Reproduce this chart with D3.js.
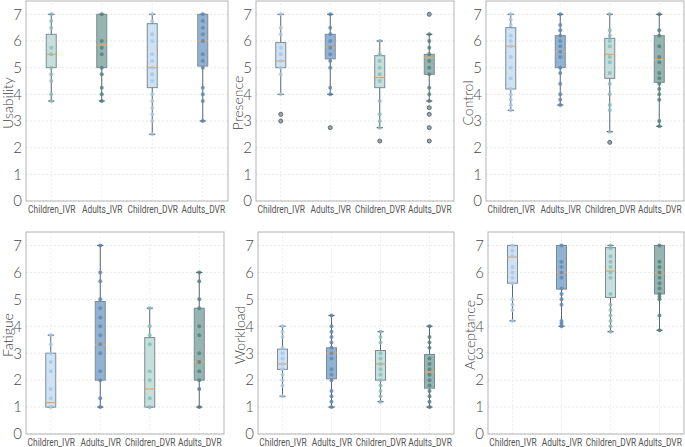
<!DOCTYPE html>
<html>
<head>
<meta charset="utf-8">
<script src="https://cdn.jsdelivr.net/npm/d3@7"></script>
<style>
  body { margin: 0; background: #fff; }
  svg { display: block; font-family: Lato, "Open Sans", sans-serif; }
</style>
</head>
<body>
<div id="chart"></div>
<script>
var svgWidth = 685;
var svgHeight = 447;

// categories and measure names
var groups = ["Children_IVR", "Adults_IVR", "Children_DVR", "Adults_DVR"];
var measures = ["Usability", "Presence", "Control", "Fatigue", "Workload", "Acceptance"];
var yTicks = [0, 1, 2, 3, 4, 5, 6, 7];

// box stats per group: [whisker low, q1, median, q3, whisker high]
var usabilityStats = [[3.75, 5, 5.5, 6.25, 7], [3.75, 5, 5.85, 7, 7], [2.5, 4.25, 5, 6.65, 7], [3, 5.06, 6, 7, 7]];
var presenceStats = [[4, 5, 5.25, 5.94, 7], [4, 5.33, 5.75, 6.25, 7], [2.75, 4.25, 4.63, 5.45, 6], [3.75, 4.75, 5.38, 5.5, 6.25]];
var controlStats = [[3.4, 4.2, 5.8, 6.5, 7], [3.6, 5, 5.6, 6.2, 7], [2.6, 4.6, 5.5, 6.1, 7], [2.8, 4.45, 5.3, 6.2, 7]];
var fatigueStats = [[1, 1, 1.17, 3, 3.67], [1, 2, 3.33, 4.92, 7], [1, 1, 1.67, 3.58, 4.67], [1, 2, 2.67, 4.67, 6]];
var workloadStats = [[1.4, 2.4, 2.6, 3.15, 4], [1, 2.05, 3, 3.2, 4.4], [1.2, 2, 2.6, 3.1, 3.8], [1, 1.7, 2.3, 2.95, 4]];
var acceptanceStats = [[4.2, 5.6, 6.57, 7, 7], [4, 5.38, 6, 7, 7], [3.8, 5.07, 6.05, 6.92, 7], [3.85, 5.2, 6, 7, 7]];

// individual responses drawn on top of each box
var usabilityPoints = [
  [7, 6.75, 6.5, 5.75, 5.5, 5, 4.75, 4.5, 4, 3.75],
  [7, 6, 5.75, 5.5, 5, 4.75, 4.25, 4, 3.75],
  [7, 6.75, 6.25, 6, 5.5, 5.25, 5, 4.75, 4.5, 4, 3.75, 3.5, 3.25, 3, 2.5],
  [7, 6.75, 6.5, 6.25, 6, 5.5, 5.25, 5, 4.25, 4, 3.75, 3]
];
var presencePoints = [
  [7, 6.5, 6.25, 5.75, 5.5, 5.25, 5, 4.75, 4],
  [7, 6.5, 6.25, 6, 5.75, 5.5, 5.25, 5, 4.25, 4],
  [6, 5.5, 5.25, 5, 4.75, 4.5, 3.75, 3.25, 3, 2.75],
  [6.25, 6, 5.75, 5.5, 5.25, 5, 4.75, 4.25, 4, 3.75]
];
var controlPoints = [
  [7, 6.8, 6.6, 6.2, 6, 5.8, 5.4, 5, 4.6, 4.2, 4, 3.8, 3.6, 3.4],
  [7, 6.6, 6.4, 6.2, 6, 5.8, 5.6, 5.4, 5, 4.8, 4.4, 4, 3.8, 3.6],
  [7, 6.4, 6.2, 6, 5.8, 5.4, 5.2, 4.8, 4.4, 4, 3.6, 3.4, 2.6],
  [7, 6.4, 6.2, 5.8, 5.4, 5.2, 4.8, 4.6, 4.4, 4.2, 4, 3.8, 3, 2.8]
];
var fatiguePoints = [
  [3.67, 3.33, 3, 2.67, 2.33, 1.67, 1.33, 1],
  [7, 6, 5.67, 5, 4.67, 4.33, 4, 3.67, 3.33, 3, 2.33, 2, 1.33, 1],
  [4.67, 4, 3.67, 3.33, 2.33, 2, 1.33, 1],
  [6, 5.67, 5, 4.67, 4, 3.67, 3, 2.67, 2.33, 2, 1.67, 1]
];
var workloadPoints = [
  [4, 3.8, 3.6, 3.2, 3, 2.8, 2.6, 2.4, 2.2, 2, 1.8, 1.4],
  [4.4, 4, 3.8, 3.6, 3.4, 3.2, 3, 2.8, 2.4, 2.2, 2, 1.6, 1.4, 1.2, 1],
  [3.8, 3.6, 3.4, 3, 2.8, 2.6, 2.4, 2.2, 2, 1.8, 1.6, 1.4, 1.2],
  [4, 3.6, 3.4, 3.2, 2.8, 2.6, 2.4, 2.2, 2, 1.8, 1.6, 1.4, 1.2, 1]
];
var acceptancePoints = [
  [7, 6.8, 6.6, 6.2, 6, 5.8, 5.6, 5, 4.8, 4.6, 4.2],
  [7, 6.4, 6.2, 6, 5.8, 5.4, 5.2, 5, 4.8, 4.2, 4.1, 4],
  [7, 6.9, 6.6, 6.4, 6.2, 6, 5.8, 5.2, 4.8, 4.6, 4.4, 4.2, 4, 3.8],
  [7, 6.4, 6.2, 6, 5.8, 5.6, 5.4, 5.2, 5.1, 5, 4.4, 3.85]
];

// outliers beyond the whiskers
var usabilityOutliers = [[], [], [], []];
var presenceOutliers = [[3.25, 3], [2.75], [2.25], [7, 3.5, 3.25, 2.75, 2.25]];
var controlOutliers = [[], [], [2.2], []];
var fatigueOutliers = [[], [], [], []];
var workloadOutliers = [[], [], [], []];
var acceptanceOutliers = [[], [], [], []];

// colour schemes: light blue, blue, light teal, dark teal
var palette = {
  lightBlue: { fill: "#cfe2f4", dot: "#a8c8e4" },
  blue: { fill: "#92b2d4", dot: "#6189b0" },
  lightTeal: { fill: "#c4dfdc", dot: "#8cbdb8" },
  darkTeal: { fill: "#95b6b0", dot: "#568480" }
};
var usabilityColours = ["lightTeal", "darkTeal", "lightBlue", "blue"];
var otherColours = ["lightBlue", "blue", "lightTeal", "darkTeal"];

var panels = [
  { name: "Usability", stats: usabilityStats, points: usabilityPoints, outliers: usabilityOutliers, colours: usabilityColours, x: [26, 228], y: [201, 1] },
  { name: "Presence", stats: presenceStats, points: presencePoints, outliers: presenceOutliers, colours: otherColours, x: [256, 454], y: [201, 1] },
  { name: "Control", stats: controlStats, points: controlPoints, outliers: controlOutliers, colours: otherColours, x: [486, 684], y: [201, 1] },
  { name: "Fatigue", stats: fatigueStats, points: fatiguePoints, outliers: fatigueOutliers, colours: otherColours, x: [26, 224], y: [434, 232] },
  { name: "Workload", stats: workloadStats, points: workloadPoints, outliers: workloadOutliers, colours: otherColours, x: [258, 454], y: [434, 232] },
  { name: "Acceptance", stats: acceptanceStats, points: acceptancePoints, outliers: acceptanceOutliers, colours: otherColours, x: [488, 684], y: [434, 232] }
];

var svg = d3.select("#chart")
  .append("svg")
  .attr("width", svgWidth)
  .attr("height", svgHeight);

var boxWidth = 10;
var capWidth = 6;

panels.forEach(function(p) {
  var xScale = d3.scalePoint()
    .domain(groups)
    .range(p.x)
    .padding(0.5);
  var yScale = d3.scaleLinear()
    .domain([0, 7.5])
    .range(p.y);

  var g = svg.append("g");

  // faint grid
  g.selectAll(".hgrid")
    .data(yTicks)
    .enter()
    .append("line")
    .attr("x1", p.x[0]).attr("x2", p.x[1])
    .attr("y1", d => yScale(d)).attr("y2", d => yScale(d))
    .attr("stroke", "#e8e8e8")
    .attr("stroke-dasharray", "2,2");
  g.selectAll(".vgrid")
    .data(groups)
    .enter()
    .append("line")
    .attr("x1", d => xScale(d)).attr("x2", d => xScale(d))
    .attr("y1", p.y[0]).attr("y2", p.y[1])
    .attr("stroke", "#eeeeee")
    .attr("stroke-dasharray", "2,2");

  // axes
  var leftAxis = d3.axisLeft(yScale).tickValues(yTicks).tickSize(0).tickPadding(4);
  var bottomAxis = d3.axisBottom(xScale).tickSize(0).tickPadding(5);

  var yAxis = g.append("g")
    .attr("transform", `translate(${p.x[0]}, 0)`)
    .call(leftAxis);
  yAxis.select(".domain").remove();
  yAxis.selectAll("text")
    .attr("font-size", 15)
    .attr("font-weight", 300)
    .attr("fill", "#4a4a4a")
    .attr("font-family", "Lato, sans-serif");

  var xAxis = g.append("g")
    .attr("transform", `translate(0, ${p.y[0]})`)
    .call(bottomAxis);
  xAxis.select(".domain").remove();
  // narrow labels, squeezed horizontally like the original condensed face
  xAxis.selectAll("text")
    .attr("font-size", 10)
    .attr("fill", "#555")
    .attr("font-family", "Roboto, sans-serif")
    .attr("transform", "scale(0.84, 1)");

  // y title
  g.append("text")
    .attr("transform", `translate(${p.x[0] - 13}, ${(p.y[0] + p.y[1]) / 2 + 2}) rotate(-90)`)
    .attr("text-anchor", "middle")
    .attr("font-size", 14)
    .attr("font-weight", 300)
    .attr("fill", "#444")
    .text(p.name);

  // boxes
  groups.forEach(function(grp, i) {
    var s = p.stats[i];
    var cx = xScale(grp);
    var col = palette[p.colours[i]];

    // whisker line
    g.append("line")
      .attr("x1", cx).attr("x2", cx)
      .attr("y1", yScale(s[0])).attr("y2", yScale(s[4]))
      .attr("stroke", "#5a6673")
      .attr("stroke-width", 1);
    // caps
    [s[0], s[4]].forEach(function(v) {
      g.append("line")
        .attr("x1", cx - capWidth / 2).attr("x2", cx + capWidth / 2)
        .attr("y1", yScale(v)).attr("y2", yScale(v))
        .attr("stroke", "#3f4f60")
        .attr("stroke-width", 1.2);
    });
    // box
    g.append("rect")
      .attr("x", cx - boxWidth / 2)
      .attr("y", yScale(s[3]))
      .attr("width", boxWidth)
      .attr("height", yScale(s[1]) - yScale(s[3]))
      .attr("fill", col.fill)
      .attr("stroke", "#7d8a96")
      .attr("stroke-width", 1);
    // median
    g.append("line")
      .attr("x1", cx - boxWidth / 2).attr("x2", cx + boxWidth / 2)
      .attr("y1", yScale(s[2])).attr("y2", yScale(s[2]))
      .attr("stroke", "#f0a35a")
      .attr("stroke-width", 1.2);

    // points
    g.selectAll(".pt" + i)
      .data(p.points[i])
      .enter()
      .append("circle")
      .attr("cx", cx)
      .attr("cy", d => yScale(d))
      .attr("r", 2)
      .attr("fill", col.dot)
      .attr("opacity", 0.85);

    // outliers
    g.selectAll(".out" + i)
      .data(p.outliers[i])
      .enter()
      .append("circle")
      .attr("cx", cx)
      .attr("cy", d => yScale(d))
      .attr("r", 2)
      .attr("fill", "#9aa5ad")
      .attr("stroke", "#5f6b75")
      .attr("stroke-width", 1);
  });

  // frame
  g.append("rect")
    .attr("x", p.x[0])
    .attr("y", p.y[1])
    .attr("width", p.x[1] - p.x[0])
    .attr("height", p.y[0] - p.y[1])
    .attr("fill", "none")
    .attr("stroke", "#b4b4b4")
    .attr("stroke-width", 1);
});
</script>
</body>
</html>
